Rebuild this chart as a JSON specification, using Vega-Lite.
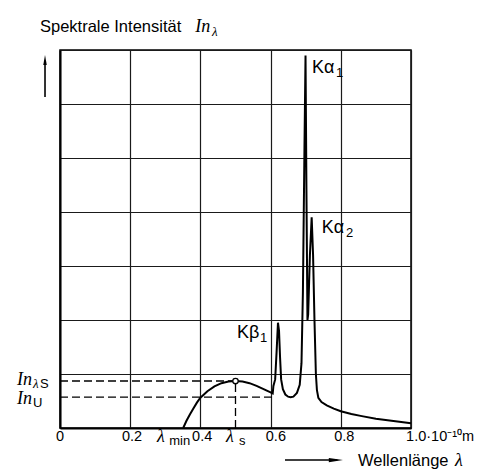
{
  "$schema": "https://vega.github.io/schema/vega-lite/v6.json",
  "width": 351,
  "height": 378,
  "autosize": {"type": "none"},
  "padding": {"left": 60, "top": 50, "right": 70, "bottom": 46},
  "background": "white",
  "config": {
    "view": {"stroke": "black", "strokeWidth": 1.5},
    "axis": {"domainColor": "black", "domainWidth": 2, "gridColor": "#1a1a1a", "gridWidth": 1.2, "gridOpacity": 1}
  },
  "encoding": {
    "x": {"field": "x", "type": "quantitative", "scale": {"domain": [0, 1], "nice": false, "zero": false},
      "axis": {"values": [0, 0.2, 0.4, 0.6, 0.8, 1], "grid": true, "labels": false, "ticks": false, "title": null}},
    "y": {"field": "y", "type": "quantitative", "scale": {"domain": [0, 7], "nice": false, "zero": false},
      "axis": {"values": [0, 1, 2, 3, 4, 5, 6, 7], "grid": true, "labels": false, "ticks": false, "title": null}}
  },
  "layer": [
    {
      "data": {"values": [
        {"x": 0.351, "y": 0}, {"x": 0.36, "y": 0.13}, {"x": 0.37, "y": 0.25}, {"x": 0.38, "y": 0.36},
        {"x": 0.39, "y": 0.47}, {"x": 0.40, "y": 0.56}, {"x": 0.42, "y": 0.68}, {"x": 0.44, "y": 0.77},
        {"x": 0.46, "y": 0.83}, {"x": 0.48, "y": 0.86}, {"x": 0.50, "y": 0.87}, {"x": 0.52, "y": 0.86},
        {"x": 0.54, "y": 0.83}, {"x": 0.56, "y": 0.78}, {"x": 0.58, "y": 0.72}, {"x": 0.60, "y": 0.66},
        {"x": 0.606, "y": 0.64}, {"x": 0.608, "y": 0.78}, {"x": 0.613, "y": 0.9}, {"x": 0.617, "y": 1.4},
        {"x": 0.621, "y": 1.95}, {"x": 0.624, "y": 1.8}, {"x": 0.627, "y": 1.3}, {"x": 0.630, "y": 0.9},
        {"x": 0.635, "y": 0.72}, {"x": 0.642, "y": 0.62}, {"x": 0.65, "y": 0.58}, {"x": 0.657, "y": 0.57},
        {"x": 0.665, "y": 0.58}, {"x": 0.675, "y": 0.65}, {"x": 0.683, "y": 0.8}, {"x": 0.688, "y": 1.2},
        {"x": 0.692, "y": 2.5}, {"x": 0.6965, "y": 5.2}, {"x": 0.6995, "y": 6.9}, {"x": 0.702, "y": 4.5},
        {"x": 0.705, "y": 2.0}, {"x": 0.707, "y": 2.1}, {"x": 0.712, "y": 3.2}, {"x": 0.717, "y": 3.9},
        {"x": 0.721, "y": 3.2}, {"x": 0.725, "y": 2.0}, {"x": 0.729, "y": 1.0}, {"x": 0.732, "y": 0.7},
        {"x": 0.736, "y": 0.56}, {"x": 0.745, "y": 0.48}, {"x": 0.76, "y": 0.42}, {"x": 0.78, "y": 0.36},
        {"x": 0.80, "y": 0.31}, {"x": 0.83, "y": 0.26}, {"x": 0.86, "y": 0.22}, {"x": 0.90, "y": 0.17},
        {"x": 0.95, "y": 0.13}, {"x": 1.0, "y": 0.09}
      ]},
      "mark": {"type": "line", "color": "black", "strokeWidth": 2}
    },
    {
      "data": {"values": [
        {"x": 0, "x2": 0.5, "y": 0.87, "y2": 0.87},
        {"x": 0.5, "x2": 0.5, "y": 0, "y2": 0.87},
        {"x": 0, "x2": 0.607, "y": 0.57, "y2": 0.57}
      ]},
      "mark": {"type": "rule", "color": "black", "strokeWidth": 1.3, "strokeDash": [8, 4]},
      "encoding": {"x2": {"field": "x2"}, "y2": {"field": "y2"}}
    },
    {
      "data": {"values": [{"x": 0.5, "y": 0.87}]},
      "mark": {"type": "point", "filled": true, "fill": "white", "stroke": "black", "strokeWidth": 1.3, "size": 30, "opacity": 1}
    },
    {
      "data": {"values": [
        {"x": -0.0427, "x2": -0.0427, "y": 6.13, "y2": 6.8},
        {"x": 0.641, "x2": 0.79, "y": -0.593, "y2": -0.593}
      ]},
      "mark": {"type": "rule", "color": "black", "strokeWidth": 1.6},
      "encoding": {"x2": {"field": "x2"}, "y2": {"field": "y2"}}
    },
    {
      "data": {"values": [{"x": -0.0427, "y": 6.815}]},
      "mark": {"type": "point", "shape": "M0,-1L0.35,1L-0.35,1Z", "size": 100, "filled": true, "color": "black", "opacity": 1}
    },
    {
      "data": {"values": [{"x": 0.786, "y": -0.593}]},
      "mark": {"type": "point", "shape": "M1,0L-1,-0.3L-1,0.3Z", "size": 200, "filled": true, "color": "black", "opacity": 1}
    },
    {
      "data": {"values": [
        {"x": 0, "y": -0.167, "t": "0"},
        {"x": 0.205, "y": -0.167, "t": "0.2"},
        {"x": 0.405, "y": -0.167, "t": "0.4"},
        {"x": 0.615, "y": -0.167, "t": "0.6"},
        {"x": 0.81, "y": -0.167, "t": "0.8"}
      ]},
      "mark": {"type": "text", "font": "Liberation Sans", "fontSize": 14.5, "align": "center", "baseline": "middle", "color": "black"},
      "encoding": {"text": {"field": "t"}}
    },
    {
      "data": {"values": [
        {"x": 0.986, "y": -0.167, "t": "1.0·10⁻¹⁰m"}
      ]},
      "mark": {"type": "text", "font": "Liberation Sans", "fontSize": 14.5, "align": "left", "baseline": "middle", "color": "black"},
      "encoding": {"text": {"field": "t"}}
    },
    {
      "data": {"values": [
        {"x": -0.057, "y": 7.43, "t": "Spektrale Intensität"},
        {"x": 0.849, "y": -0.611, "t": "Wellenlänge"}
      ]},
      "mark": {"type": "text", "font": "Liberation Sans", "fontSize": 16.5, "align": "left", "baseline": "middle", "color": "black"},
      "encoding": {"text": {"field": "t"}}
    },
    {
      "data": {"values": [
        {"x": 0.718, "y": 6.667, "t": "Kα"},
        {"x": 0.746, "y": 3.704, "t": "Kα"},
        {"x": 0.504, "y": 1.759, "t": "Kβ"}
      ]},
      "mark": {"type": "text", "font": "Liberation Sans", "fontSize": 18, "align": "left", "baseline": "middle", "color": "black"},
      "encoding": {"text": {"field": "t"}}
    },
    {
      "data": {"values": [
        {"x": 0.786, "y": 6.574, "t": "1"},
        {"x": 0.815, "y": 3.611, "t": "2"},
        {"x": 0.57, "y": 1.667, "t": "1"},
        {"x": 0.311, "y": -0.241, "t": "min"},
        {"x": 0.51, "y": -0.241, "t": "s"},
        {"x": -0.057, "y": 0.815, "t": "S"},
        {"x": -0.077, "y": 0.463, "t": "U"}
      ]},
      "mark": {"type": "text", "font": "Liberation Sans", "fontSize": 13, "align": "left", "baseline": "middle", "color": "black"},
      "encoding": {"text": {"field": "t"}}
    },
    {
      "data": {"values": [
        {"x": 0.385, "y": 7.43, "t": "In"},
        {"x": -0.1225, "y": 0.889, "t": "In"},
        {"x": -0.1225, "y": 0.537, "t": "In"},
        {"x": 0.276, "y": -0.167, "t": "λ"},
        {"x": 0.473, "y": -0.167, "t": "λ"},
        {"x": 1.125, "y": -0.611, "t": "λ"}
      ]},
      "mark": {"type": "text", "font": "Liberation Serif", "fontStyle": "italic", "fontSize": 18, "align": "left", "baseline": "middle", "color": "black"},
      "encoding": {"text": {"field": "t"}}
    },
    {
      "data": {"values": [
        {"x": 0.433, "y": 7.333, "t": "λ"},
        {"x": -0.077, "y": 0.815, "t": "λ"}
      ]},
      "mark": {"type": "text", "font": "Liberation Serif", "fontStyle": "italic", "fontSize": 13, "align": "left", "baseline": "middle", "color": "black"},
      "encoding": {"text": {"field": "t"}}
    }
  ]
}
